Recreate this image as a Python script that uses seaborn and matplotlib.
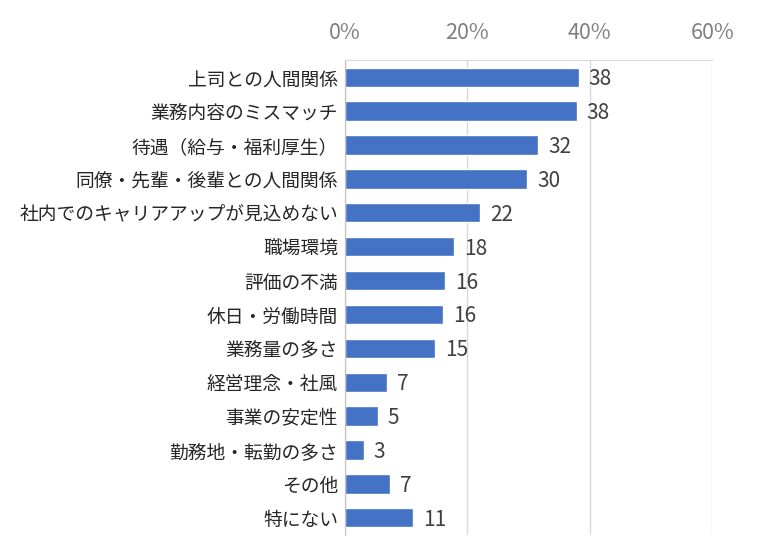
import numpy as np
import pandas as pd
import matplotlib
matplotlib.use("Agg")
import matplotlib.pyplot as plt
import seaborn as sns
from matplotlib.ticker import FixedLocator, PercentFormatter

# ----------------------------------------------------------
# data (percent)
reasons = [
    "上司との人間関係",
    "業務内容のミスマッチ",
    "待遇（給与・福利厚生）",
    "同僚・先輩・後輩との人間関係",
    "社内でのキャリアアップが見込めない",
    "職場環境",
    "評価の不満",
    "休日・労働時間",
    "業務量の多さ",
    "経営理念・社風",
    "事業の安定性",
    "勤務地・転勤の多さ",
    "その他",
    "特にない",
]
share = [38.2, 37.9, 31.6, 29.8, 22.1, 17.8, 16.4, 16.0, 14.7, 6.9, 5.4, 3.1, 7.4, 11.1]
labels = ["38", "38", "32", "30", "22", "18", "16", "16", "15", "7", "5", "3", "7", "11"]
x_ticks = [0, 20, 40, 60]

df = pd.DataFrame({"reason": reasons, "share": share, "label": labels})

# ----------------------------------------------------------
sns.set_style("white")
plt.rcParams["font.family"] = ["Noto Sans CJK JP", "DejaVu Sans"]

fig = plt.figure(figsize=(7.69, 5.53), dpi=100)
ax = fig.add_axes([0.4486, 0.033, 0.4775, 0.858])

sns.barplot(data=df, x="share", y="reason", order=reasons, color="#4472C4",
            saturation=1, width=0.57, ax=ax)

for i, (v, lab) in enumerate(zip(share, labels)):
    ax.text(v + 1.6, i + 0.06, lab, va="center", ha="left", fontsize=15, color="#404040")

ax.set_xlim(0, 60)
ax.set_ylim(len(reasons) - 0.5, -0.5)
ax.xaxis.set_major_locator(FixedLocator(x_ticks))
ax.xaxis.set_major_formatter(PercentFormatter(decimals=0))
ax.xaxis.tick_top()
ax.tick_params(axis="x", length=0, labelsize=15.5, colors="#7F7F7F", pad=12)
ax.tick_params(axis="y", which="major", length=0, labelsize=13.5, labelcolor="#262626", pad=5)
ax.yaxis.set_minor_locator(FixedLocator(np.arange(-0.5, len(reasons), 1.0)))
ax.tick_params(axis="y", which="minor", length=4, color="#BFBFBF", width=1)
ax.set_xlabel("")
ax.set_ylabel("")

ax.grid(axis="x", color="#D9D9D9", linewidth=1)
ax.set_axisbelow(True)
for side in ["right", "bottom"]:
    ax.spines[side].set_visible(False)
ax.spines["left"].set_color("#BFBFBF")
ax.spines["top"].set_color("#D9D9D9")

fig.savefig("out.png", dpi=100, facecolor="white")
